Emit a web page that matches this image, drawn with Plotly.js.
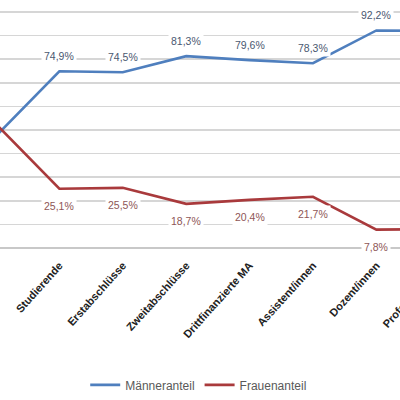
<!DOCTYPE html>
<html><head><meta charset="utf-8">
<script src="https://cdn.plot.ly/plotly-3.0.1.min.js"></script>
<style>
html,body{margin:0;padding:0;width:400px;height:400px;overflow:hidden;background:#fff;}
#chart{position:absolute;left:-60px;top:0;width:560px;height:400px;}
</style></head>
<body><div id="chart"></div>
<script>
const categories = ["Studieneintritte","Studierende","Erstabschlüsse","Zweitabschlüsse","Drittfinanzierte MA","Assistent/innen","Dozent/innen","Professor/innen"];
const maenner = [47.5, 74.9, 74.5, 81.3, 79.6, 78.3, 92.2, 92.0];
const frauen  = [52.5, 25.1, 25.5, 18.7, 20.4, 21.7, 7.8, 8.0];
const blue = "#4f7fbe", red = "#a93a3c";
const fmt = v => v.toFixed(1).replace(".", ",") + "%";

const traces = [
  {x: categories, y: maenner, name: "Männeranteil", type: "scatter", mode: "lines",
   line: {color: blue, width: 2.6}},
  {x: categories, y: frauen, name: "Frauenanteil", type: "scatter", mode: "lines",
   line: {color: red, width: 2.6}}
];

const annotations = [];
categories.forEach((c, i) => {
  const first = i === 0;
  annotations.push({x: c, y: maenner[i], text: fmt(maenner[i]), showarrow: false,
    yshift: 15, xanchor: first ? "right" : "center", xshift: first ? -6 : 0,
    bgcolor: "#ffffff", borderpad: 2,
    font: {family: "Liberation Sans, Arial, sans-serif", size: 10.5, color: "#4a5870"}});
  annotations.push({x: c, y: frauen[i], text: fmt(frauen[i]), showarrow: false,
    yshift: first ? -28 : -17, xanchor: first ? "right" : "center", xshift: first ? 4 : 0,
    bgcolor: "#ffffff", borderpad: 2,
    font: {family: "Liberation Sans, Arial, sans-serif", size: 10.5, color: "#8e5656"}});
});

const layout = {
  width: 560, height: 400,
  margin: {l: 0, r: 0, t: 0, b: 152},
  paper_bgcolor: "#ffffff", plot_bgcolor: "#ffffff",
  showlegend: true,
  legend: {orientation: "h", x: 0.462, xanchor: "center", y: -0.552, yanchor: "middle",
    font: {family: "Liberation Sans, Arial, sans-serif", size: 12, color: "#595959"},
    itemwidth: 30},
  xaxis: {type: "category", range: [-0.883, 7.95], showgrid: false, zeroline: false,
    showline: false, ticks: "", tickangle: -48, ticklabelstandoff: 8,
    tickfont: {family: "Liberation Sans, Arial, sans-serif", size: 11, color: "#222222", weight: "bold"}},
  yaxis: {range: [0, 105.1], dtick: 10, tick0: 0, showgrid: true, gridcolor: "#d6d6d6",
    gridwidth: 1.6, zeroline: true, zerolinecolor: "#c8c8c8", zerolinewidth: 2,
    showticklabels: false, ticks: "", fixedrange: true},
  annotations: annotations
};
Plotly.newPlot("chart", traces, layout, {displayModeBar: false, staticPlot: true});
</script></body></html>
